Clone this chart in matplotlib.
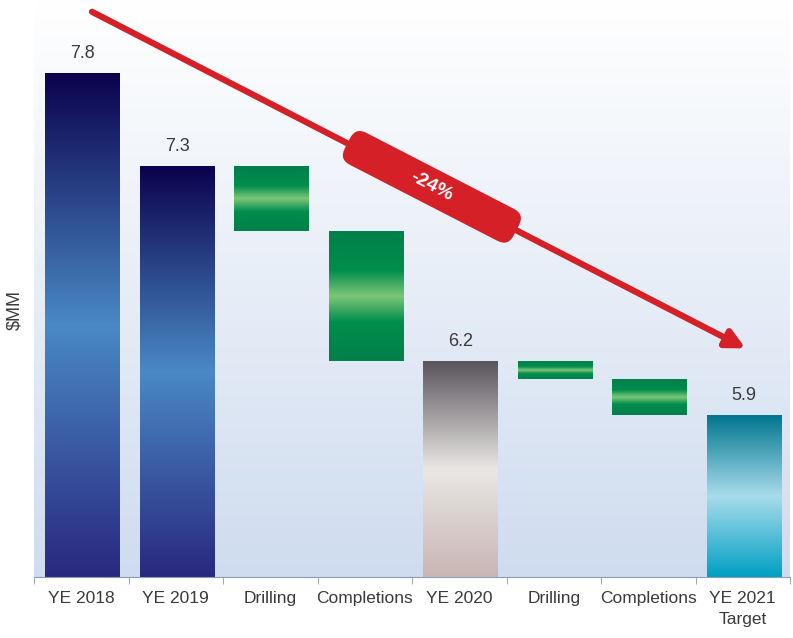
import numpy as np
import matplotlib
matplotlib.use("Agg")
import matplotlib.pyplot as plt
from matplotlib.colors import LinearSegmentedColormap
from matplotlib.patches import FancyBboxPatch
from matplotlib.transforms import Affine2D

# данные
categories = ["YE 2018", "YE 2019", "Drilling", "Completions", "YE 2020",
              "Drilling", "Completions", "YE 2021\nTarget"]
values = [7.8, 7.28, -0.36, -0.72, 6.2, -0.10, -0.20, 5.9]
kinds = ["total", "total", "delta", "delta", "total", "delta", "delta", "total"]
styles = ["blue", "blue", "green", "green", "gray", "green", "green", "teal"]
change_label = "-24%"
y_min = 5.0

plt.rcParams["font.family"] = ["Liberation Sans", "DejaVu Sans"]
text_color = "#3a3a3a"
red = "#d62027"

gradients = {
    "blue": [(0.0, "#0b024d"), (0.5, "#4a89c5"), (1.0, "#29287f")],
    "green": [(0.0, "#00804a"), (0.3, "#008d4c"), (0.5, "#7dc679"), (0.7, "#008d4c"), (1.0, "#00804a")],
    "gray": [(0.0, "#5a545c"), (0.5, "#e9e7e4"), (1.0, "#c8b6b4")],
    "teal": [(0.0, "#00768f"), (0.5, "#a8dcea"), (1.0, "#00a0c3")],
}

fig = plt.figure(figsize=(7.93, 6.38), dpi=100)
ax = fig.add_axes([34 / 793, 61 / 638, 756 / 793, 577 / 638])

# фон с градиентом
bg = LinearSegmentedColormap.from_list("bg", ["#cfdcef", "#ffffff"])
ax.imshow(np.linspace(0, 1, 256).reshape(-1, 1), cmap=bg, origin="lower",
          extent=[0, 1, 0, 1], transform=ax.transAxes, aspect="auto", zorder=0)

# столбцы водопада
running = 0
width = 0.79
shift = 0.015
grad = np.linspace(0, 1, 256).reshape(-1, 1)
for i, (v, k, s) in enumerate(zip(values, kinds, styles)):
    if k == "total":
        bottom, top = y_min, v
        running = v
    else:
        top = running
        running = running + v
        bottom = running
    cmap = LinearSegmentedColormap.from_list(s, gradients[s])
    ax.imshow(grad, cmap=cmap, origin="upper", aspect="auto",
              extent=[i + shift - width / 2, i + shift + width / 2, bottom, top], zorder=2)
    if k == "total":
        ax.annotate(f"{v:.1f}", (i + shift, top), xytext=(0, 8), textcoords="offset points",
                    ha="center", va="bottom", fontsize=13, color=text_color)

ax.set_xlim(-0.5, len(categories) - 0.5)
ax.set_ylim(y_min, y_min + 577 / 180)

# оси
for side in ["left", "right", "top"]:
    ax.spines[side].set_visible(False)
ax.spines["bottom"].set_color("#8a9bb5")
ax.spines["bottom"].set_zorder(3)
ax.set_yticks([])
ax.set_xticks(range(len(categories)))
ax.set_xticklabels(categories, fontsize=12.5, color=text_color, linespacing=1.5)
ax.tick_params(axis="x", which="major", length=0, pad=10)
ax.set_xticks(np.arange(-0.5, len(categories), 1), minor=True)
ax.tick_params(axis="x", which="minor", length=5, color="#8a9bb5")
fig.text(15 / 793, 1 - 310 / 638, "$MM", rotation=90, ha="center", va="center",
         fontsize=13, color=text_color)

# стрелка тренда
start = (0.114, 8.14)
end = (7.03, 6.27)
ax.annotate("", xy=end, xytext=start, annotation_clip=False,
            arrowprops=dict(arrowstyle="-|>", color=red, lw=4.5, mutation_scale=28,
                            shrinkA=0, shrinkB=0), zorder=5)

fig.canvas.draw()
p0 = ax.transData.transform(start)
p1 = ax.transData.transform(end)
angle = np.degrees(np.arctan2(p1[1] - p0[1], p1[0] - p0[0]))
frac = 0.52
mid = p0 + frac * (p1 - p0)
box_len, box_h = 190, 36
box = FancyBboxPatch((mid[0] - box_len / 2, mid[1] - box_h / 2), box_len, box_h,
                     boxstyle="round,pad=0,rounding_size=12", fc=red, ec="none", zorder=6)
box.set_transform(Affine2D().rotate_deg_around(mid[0], mid[1], angle))
box.set_clip_on(False)
ax.add_patch(box)
mid_data = ax.transData.inverted().transform(mid)
ax.text(mid_data[0], mid_data[1], change_label, rotation=angle, rotation_mode="anchor",
        ha="center", va="center", fontsize=14, fontweight="bold", color="white",
        zorder=7)

fig.savefig("out.png", dpi=100)
